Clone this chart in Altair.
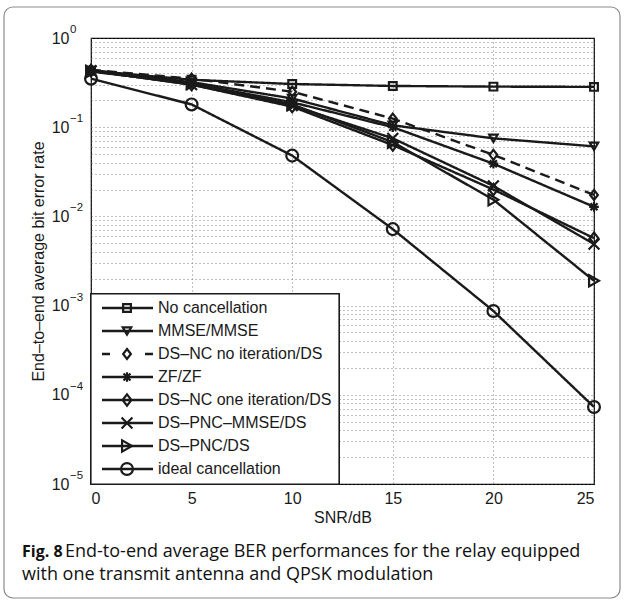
import altair as alt
import pandas as pd

snr = [0, 5, 10, 15, 20, 25]
series_names = [
    "No cancellation",
    "MMSE/MMSE",
    "DS–NC no iteration/DS",
    "ZF/ZF",
    "DS–NC one iteration/DS",
    "DS–PNC–MMSE/DS",
    "DS–PNC/DS",
    "ideal cancellation",
]
no_cancel = [0.43, 0.34, 0.305, 0.29, 0.285, 0.283]
mmse = [0.43, 0.32, 0.21, 0.105, 0.075, 0.061]
dsnc_noit = [0.44, 0.35, 0.25, 0.125, 0.049, 0.0174]
zf = [0.44, 0.31, 0.19, 0.10, 0.039, 0.0128]
dsnc_one = [0.43, 0.30, 0.17, 0.063, 0.020, 0.0057]
dspnc_mmse = [0.43, 0.30, 0.175, 0.075, 0.022, 0.0049]
dspnc = [0.42, 0.31, 0.18, 0.068, 0.0154, 0.0019]
ideal = [0.35, 0.18, 0.048, 0.0072, 0.00087, 0.000073]
all_values = [no_cancel, mmse, dsnc_noit, zf, dsnc_one, dspnc_mmse, dspnc, ideal]

x_ticks = [0, 5, 10, 15, 20, 25]
y_exponents = [0, -1, -2, -3, -4, -5]

rows = []
for name, vals in zip(series_names, all_values):
    for s, v in zip(snr, vals):
        rows.append({"series": name, "snr": s, "ber": v})
df = pd.DataFrame(rows)

exp_df = pd.DataFrame({
    "ber": [10.0 ** e for e in y_exponents],
    "label": [str(e).replace("-", "−") for e in y_exponents],
})

legend_df = pd.DataFrame({"series": series_names, "idx": list(range(len(series_names)))})

ast = "M-1,0L1,0M0,-1L0,1M-0.72,-0.72L0.72,0.72M-0.72,0.72L0.72,-0.72"
xpath = "M-1,-1L1,1M-1,1L1,-1"
diam = "M0,-1.1L0.85,0L0,1.1L-0.85,0Z"
shapes = ["square", "triangle-down", diam, ast, diam, xpath, "triangle-right", "circle"]
sizes = [60, 140, 110, 200, 110, 120, 140, 90]
dashes = [[1, 0], [1, 0], [10, 6], [1, 0], [1, 0], [1, 0], [1, 0], [1, 0]]
legend_dashes = [[1, 0], [1, 0], [8, 35], [1, 0], [1, 0], [1, 0], [1, 0], [1, 0]]

# y axis values: major and minor decades
y_vals = []
for e in range(-5, 0):
    for k in range(1, 10):
        y_vals.append(float(f"{k}e{e}"))
y_vals.append(1.0)

expr = ("abs(log(datum.value)/LN10 - round(log(datum.value)/LN10)) < 1e-6 ? '10' : ''")

FONT = "Liberation Sans"
INK = "#1a1a1a"

x_enc = alt.X("snr:Q", scale=alt.Scale(domain=[0, 25], nice=False),
              axis=alt.Axis(values=x_ticks, title="SNR/dB", grid=True, ticks=False,
                            labelPadding=6, titlePadding=3, domain=False))
y_enc = alt.Y("ber:Q", scale=alt.Scale(type="log", domain=[1e-5, 1], nice=False),
              axis=alt.Axis(values=y_vals, labelExpr=expr, title="End–to–end average bit error rate",
                            grid=True, ticks=False, labelPadding=22, titlePadding=5, domain=False,
                            labelOverlap=False))

lines = alt.Chart(df).mark_line(color=INK, strokeWidth=2.4).encode(
    x=x_enc, y=y_enc,
    detail="series:N",
    strokeDash=alt.StrokeDash("series:N", scale=alt.Scale(domain=series_names, range=dashes), legend=None),
)
points = alt.Chart(df).mark_point(filled=False, color=INK, strokeWidth=2.2, opacity=1).encode(
    x="snr:Q", y="ber:Q",
    shape=alt.Shape("series:N", scale=alt.Scale(domain=series_names, range=shapes), legend=None),
    size=alt.Size("series:N", scale=alt.Scale(domain=series_names, range=sizes), legend=None),
)
exps = alt.Chart(exp_df).mark_text(align="left", baseline="middle", font=FONT, fontSize=11.5,
                                   color=INK).encode(
    x=alt.value(-21), y="ber:Q", text="label:N", yOffset=alt.value(-8))
main = alt.layer(lines, points, exps)

# legend
leg_y = alt.Y("idx:Q", scale=alt.Scale(domain=[0, 7], range=[270, 431]), axis=None)
leg_box = alt.Chart(legend_df).mark_rect(fill="white", stroke=INK, strokeWidth=1.2).encode(
    x=alt.value(0), x2=alt.value(248), y=alt.value(256), y2=alt.value(446))
leg_lines = alt.Chart(legend_df).mark_rule(color=INK, strokeWidth=2.4).encode(
    x=alt.value(11), x2=alt.value(62), y=leg_y,
    strokeDash=alt.StrokeDash("series:N", scale=alt.Scale(domain=series_names, range=legend_dashes), legend=None),
)
leg_pts = alt.Chart(legend_df).mark_point(filled=False, color=INK, strokeWidth=2.2, opacity=1).encode(
    x=alt.value(36), y="idx:Q",
    shape=alt.Shape("series:N", scale=alt.Scale(domain=series_names, range=shapes), legend=None),
    size=alt.Size("series:N", scale=alt.Scale(domain=series_names, range=sizes), legend=None),
)
leg_text = alt.Chart(legend_df).mark_text(align="left", baseline="middle", font=FONT, fontSize=16, color=INK).encode(
    x=alt.value(67), y="idx:Q", text="series:N")
legend = alt.layer(leg_box, leg_lines, leg_pts, leg_text)

# figure frame and caption
cap_df = pd.DataFrame({"t": [0]})
frame = alt.Chart(cap_df).mark_rect(fill=None, stroke="#8a8a8a", strokeWidth=1.2, cornerRadius=9).encode(
    x=alt.value(-87), x2=alt.value(529), y=alt.value(-31), y2=alt.value(560))
cap_bold = alt.Chart(cap_df).mark_text(align="left", baseline="middle", font="Open Sans", fontSize=16,
                                       fontWeight="bold", color="#111").encode(
    x=alt.value(-69), y=alt.value(514), text=alt.value("Fig. 8"))
cap_l1 = alt.Chart(cap_df).mark_text(align="left", baseline="middle", font="Open Sans", fontSize=18,
                                     color="#111").encode(
    x=alt.value(-26), y=alt.value(514),
    text=alt.value("End-to-end average BER performances for the relay equipped"))
cap_l2 = alt.Chart(cap_df).mark_text(align="left", baseline="middle", font="Open Sans", fontSize=18,
                                     color="#111").encode(
    x=alt.value(-69), y=alt.value(537),
    text=alt.value("with one transmit antenna and QPSK modulation"))
deco = alt.layer(frame, cap_bold, cap_l1, cap_l2)

chart = alt.layer(deco, main, legend).resolve_scale(
    y="independent", x="independent", shape="independent", size="independent", strokeDash="independent"
).properties(
    width=503, height=446,
    autosize=alt.AutoSizeParams(type="none"),
    padding={"left": 91, "top": 38, "right": 31, "bottom": 118},
    background="white",
).configure_view(stroke="#000", strokeWidth=1.2).configure_axis(
    labelFont=FONT, titleFont=FONT, labelFontSize=16, titleFontSize=16, labelColor=INK, titleColor=INK,
    titleFontWeight="normal", gridColor="#555", gridDash=[1, 3], gridWidth=1, gridOpacity=0.75,
)

chart.save("out.html", embed_options={"renderer": "svg", "actions": False})
